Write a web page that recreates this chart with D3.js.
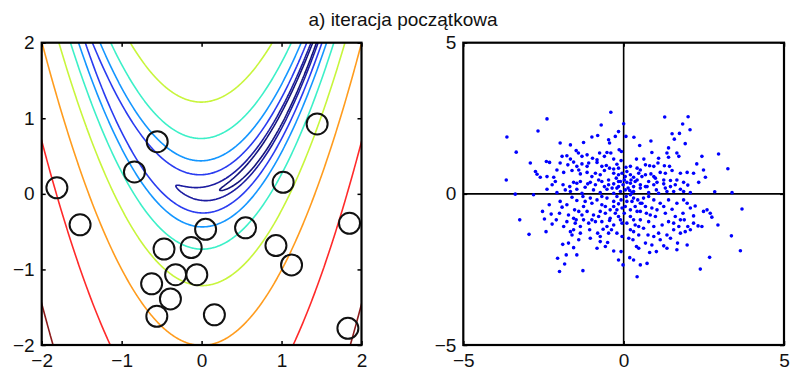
<!DOCTYPE html>
<html>
<head>
<meta charset="utf-8">
<script src="https://cdn.jsdelivr.net/npm/d3@7"></script>
<style>
  body { margin: 0; background: #fff; }
  text { font-family: "Liberation Sans", Arial, sans-serif; }
</style>
</head>
<body>
<svg id="chart" width="794" height="375"></svg>
<script>
// ---- data ---------------------------------------------------------------
const titleText = "a) iteracja początkowa";

// Rosenbrock banana function, contour levels (the outer ones are e^2 ... e^8)
const levelValues = [0.6, 1.75, 7.389, 20.09, 54.6, 148.4, 403.4, 1096.6, 2981];
const levelColors = ["#14147a", "#1c1ca0", "#2a3cf0", "#1496ff", "#3cf0c8",
                     "#c8f53c", "#ff9c1e", "#ff2a2a", "#8c1c1c"];

// population of the first iteration (left panel)
const popX = [-1.81, -0.84, -0.555, 1.445, 1.02, -1.52, 1.85, 0.05, 0.55, -0.47,
              -0.13, 0.93, 1.125, -0.325, -0.06, -0.625, -0.39, -0.56, 0.16, 1.83];
const popY = [0.08, 0.29, 0.69, 0.925, 0.153, -0.41, -0.39, -0.47, -0.45, -0.73,
              -0.71, -0.685, -0.94, -1.07, -1.07, -1.19, -1.39, -1.62, -1.60, -1.78];

// sampled points (right panel)
const sampX = [
 -0.40,-2.39,1.28,2.01,0.00,-0.70,-2.67,1.84,2.07,-0.16,-3.64,-0.99,-0.81,-0.26,0.07,0.32,0.85,1.51,1.74,1.58,
 -0.47,-0.44,-1.98,-1.66,-1.25,0.50,1.40,1.92,-3.35,-1.48,-1.41,-1.14,-0.75,-0.52,-0.40,-0.14,-0.07,0.88,1.35,1.66,
 2.44,2.96,-1.92,-1.77,-1.66,-1.30,-0.97,-0.83,-0.60,-0.31,-0.08,0.40,0.63,1.09,1.40,1.72,-2.91,-2.41,-2.31,-1.98,
 -1.74,-1.56,-1.30,-1.09,-0.83,-0.68,-0.54,-0.21,0.07,0.42,0.68,0.81,1.07,1.27,1.43,2.28,3.25,-3.66,-2.75,-2.70,
 -2.39,-2.18,-2.13,-1.87,-1.61,-1.40,-1.35,-1.14,-0.99,-0.73,-0.60,-0.31,-0.16,-0.05,0.10,0.21,0.31,0.47,0.68,0.85,
 0.99,1.14,1.30,1.51,1.77,1.98,2.18,2.49,2.55,2.34,-2.60,-2.39,-1.89,-1.68,-1.56,-1.35,-1.04,-0.88,-0.68,-0.47,
 -0.31,-0.16,0.02,0.21,0.36,0.52,0.78,1.04,1.25,1.46,1.61,1.87,2.00,-2.08,-1.82,-1.66,-1.46,-1.20,-0.73,-0.52,
 -0.21,0.05,0.31,0.52,0.78,1.02,1.35,1.77,2.08,2.84,3.38,-3.38,-2.81,
 3.69,-3.24,-2.95,-2.53,-2.47,-2.42,-2.26,-2.23,-2.32,-1.98,-2.00,-1.92,-1.77,-1.72,-1.66,-1.61,-1.53,-1.51,-1.48,-1.40,
 -1.35,-1.30,-1.20,-1.14,-1.09,-1.06,-0.99,-0.94,-0.88,-0.83,-0.81,-0.73,-0.68,-0.64,-0.57,-0.50,-0.44,-0.42,-0.38,-0.31,
 -0.31,-0.26,-0.21,-0.16,-0.10,-0.08,-0.05,-0.02,0.02,0.05,0.10,0.16,0.19,0.21,0.26,0.29,0.31,0.36,0.40,0.42,
 0.42,0.47,0.47,0.52,0.57,0.62,0.71,0.73,0.76,0.78,0.81,0.88,0.94,0.99,1.02,1.09,1.14,1.20,1.25,1.30,
 1.35,1.40,1.46,1.51,1.56,1.61,1.68,1.72,1.77,1.85,1.89,1.92,1.98,2.00,2.08,2.18,2.23,2.32,2.39,2.44,
 2.49,2.60,2.68,2.70,2.75,2.94,3.36,3.64,-2.06,-2.00,-1.90,-1.84,-1.79,-1.72,-1.56,-1.27,-1.46,-0.73,-0.47,
 -0.23,-0.10,-0.02,0.10,0.23,0.31,0.19,-0.10,-0.31,-0.47,-0.60,-0.78,-0.94,-1.12,-1.30,-1.46,0.42,0.57,0.73,0.94,
 1.09,1.25,1.46,1.66,1.87,-0.31,-0.44,0.21,0.52,0.94,-0.16,0.05,0.14,0.26,-0.16,-0.36,-0.88,-1.14,-1.46,-2.08,
 -2.23,0.68,0.94,1.30,1.56,
 -0.21,-0.08,0.08,0.21,0.31,0.44,0.62,0.78,0.94,-0.52,-0.68,-0.83,-1.04,-1.27,-1.46,-1.61,-0.05,-0.16,0.21,0.36,
 0.52,0.68,0.83,1.04,1.25,1.40,1.66,1.87,1.98,-0.57,-0.78,-0.99,-1.25,-1.40,-1.56,-1.77,-1.87,-2.10,-0.31,-0.21,
 -0.52,-0.68,0.31,0.47,0.21,0.94,1.14,1.56,1.77,2.08,2.18,-1.25,-1.35,-1.56,-0.73,-1.04,-0.57,0.68,0.88,1.35,
 1.66,0.31,0.52,-0.16,0.10,-0.31,0.52,-0.05,-0.42
];
const sampY = [
 2.70,2.48,2.54,2.55,2.32,2.28,2.08,2.31,2.12,2.06,1.88,1.88,1.93,1.90,1.90,1.87,1.75,1.99,2.00,1.81,
 1.79,1.68,1.68,1.62,1.70,1.60,1.52,1.66,1.38,1.43,1.35,1.29,1.35,1.37,1.35,1.46,1.40,1.37,1.35,1.35,
 1.24,1.32,1.24,1.26,1.15,1.24,1.18,1.13,1.24,1.15,1.10,1.15,1.15,1.18,1.21,1.24,1.02,1.07,1.04,1.02,
 0.96,1.05,0.99,1.02,1.04,0.91,0.94,0.98,0.88,0.85,0.96,0.93,1.02,0.93,0.91,0.99,0.83,0.46,0.74,0.65,
 0.57,0.55,0.41,0.71,0.77,0.79,0.66,0.71,0.57,0.63,0.77,0.82,0.63,0.68,0.74,0.63,0.55,0.68,0.63,0.66,
 0.52,0.71,0.68,0.77,0.68,0.71,0.68,0.79,0.55,0.38,0.55,0.15,0.30,0.24,0.38,0.41,0.38,0.30,0.41,0.46,
 0.33,0.41,0.46,0.35,0.41,0.30,0.41,0.38,0.33,0.44,0.30,0.38,0.29,0.04,0.13,0.08,0.15,0.22,0.04,0.15,
 0.19,0.13,0.08,0.19,0.04,0.13,0.08,0.15,0.04,0.07,0.04,-0.01,-0.03,
 -0.50,-0.86,-1.34,-0.58,-0.83,-1.25,-0.67,-1.00,-0.36,-0.25,-0.64,-0.44,-0.36,-0.70,-1.25,-1.36,-0.53,-0.97,-0.86,-1.52,
 -1.30,-0.70,-0.25,-0.58,-0.97,-1.19,-0.31,-0.70,-0.92,-1.80,-1.30,-0.58,-0.36,-1.17,-0.64,-1.61,-0.88,-0.53,-1.19,-0.42,
 -1.89,-0.64,-0.53,-0.33,-0.86,-1.91,-1.41,-2.35,-0.64,-0.42,-0.97,-1.47,-2.11,-0.75,-0.25,-1.52,-1.25,-1.03,-1.74,-0.58,
 -2.74,-1.36,-1.80,-0.86,-0.31,-1.14,-0.64,-2.30,-1.36,-0.92,-1.94,-0.47,-1.08,-0.75,-1.91,-1.30,-0.31,-1.03,-1.72,-0.64,
 -1.36,-0.92,-1.47,-0.51,-1.19,-0.75,-1.63,-1.08,-1.30,-0.64,-0.86,-1.25,-1.69,-1.08,-0.47,-0.73,-0.40,-1.06,-2.49,-1.08,
 -0.58,-0.53,-2.10,-0.64,-0.77,-1.03,-1.39,-1.88,-2.13,-2.57,-1.67,-2.32,-2.02,-1.63,-1.78,-2.54,-2.02,-1.58,-1.30,
 0.52,0.41,0.30,0.38,0.46,0.24,0.11,0.08,0.02,0.30,0.24,0.46,0.13,0.33,0.02,0.35,0.46,0.57,0.24,0.30,
 0.02,0.46,0.24,0.46,0.08,0.68,0.85,0.91,0.79,0.91,0.85,0.57,0.19,0.04,0.24,0.19,0.68,0.91,0.91,0.79,
 0.30,0.24,0.57,0.19,0.08,
 -0.09,-0.20,-0.09,-0.03,-0.14,-0.20,-0.14,-0.09,-0.20,-0.14,-0.09,-0.20,-0.14,-0.09,-0.22,-0.11,-0.47,-0.75,-0.53,-0.42,
 -0.58,-0.42,-0.70,-0.53,-0.42,-0.20,-0.31,-0.20,-0.31,-0.42,-0.75,-0.86,-0.42,-0.58,-0.81,-0.92,-1.08,-0.86,-1.03,-1.30,
 -1.08,-0.92,-0.86,-1.08,-1.19,-1.41,-1.52,-0.97,-0.86,-1.19,-0.97,-0.86,-1.08,-1.19,-1.41,-1.47,-1.74,-1.63,-1.69,-1.80,
 -1.85,-2.19,-2.35,-2.19,-0.25,-0.25,-0.31,-0.97,-0.81
];

const leftTicks = [-2, -1, 0, 1, 2];
const rightTicks = [-5, 0, 5];

// ---- layout -------------------------------------------------------------
const svg = d3.select("#chart");
const L = { x0: 41.7, x1: 361.5, y0: 42.7, y1: 345 };
const R = { x0: 463.3, x1: 784, y0: 42.7, y1: 345 };

const xL = d3.scaleLinear([-2, 2], [L.x0, L.x1]);
const yL = d3.scaleLinear([-2, 2], [L.y1, L.y0]);
const xR = d3.scaleLinear([-5, 5], [R.x0, R.x1]);
const yR = d3.scaleLinear([-5, 5], [R.y1, R.y0]);

const fontSize = 19;
const tickFmt = d3.format("d");

svg.append("text")
  .attr("x", 403).attr("y", 26)
  .attr("text-anchor", "middle")
  .attr("font-size", fontSize)
  .attr("fill", "#111")
  .text(titleText);

// ---- left panel: contours ----------------------------------------------
const rosen = (x, y) => (1 - x) * (1 - x) + 100 * (y - x * x) * (y - x * x);
const g0 = -2.1, step = 0.01, n = 421;
const grid = new Float64Array(n * n);
for (let j = 0; j < n; j++) {
  for (let i = 0; i < n; i++) {
    const x = g0 + i * step, y = g0 + j * step;
    grid[j * n + i] = -Math.log(rosen(x, y) + 1e-12);
  }
}

svg.append("clipPath").attr("id", "clipL")
  .append("rect")
  .attr("x", L.x0).attr("y", L.y0)
  .attr("width", L.x1 - L.x0).attr("height", L.y1 - L.y0);

const gridToPx = d3.geoTransform({
  point(px, py) {
    this.stream.point(xL(g0 + (px - 0.5) * step), yL(g0 + (py - 0.5) * step));
  }
});
const contourPath = d3.geoPath(gridToPx);
const contourGen = d3.contours().size([n, n]);

const gC = svg.append("g").attr("clip-path", "url(#clipL)");
levelValues.forEach((v, idx) => {
  gC.append("path")
    .datum(contourGen.contour(grid, -Math.log(v)))
    .attr("d", contourPath)
    .attr("fill", "none")
    .attr("stroke", levelColors[idx])
    .attr("stroke-width", 1.6)
    .attr("stroke-linejoin", "round");
});

// population markers
svg.append("g").selectAll("circle")
  .data(popX.map((x, i) => [x, popY[i]]))
  .join("circle")
  .attr("cx", d => xL(d[0]))
  .attr("cy", d => yL(d[1]))
  .attr("r", 10.5)
  .attr("fill", "none")
  .attr("stroke", "#111")
  .attr("stroke-width", 2);

// ---- axes helpers -------------------------------------------------------
function styleAxis(g) {
  g.select(".domain").remove();
  g.selectAll(".tick line").attr("stroke", "#000").attr("stroke-width", 1.5);
  g.selectAll(".tick text").attr("font-size", fontSize).attr("fill", "#111")
    .attr("font-family", "'Liberation Sans', Arial, sans-serif");
}

function drawAxes(P, xs, ys, ticks) {
  svg.append("g").attr("transform", `translate(0,${P.y1})`)
    .call(d3.axisBottom(xs).tickValues(ticks).tickSize(-4).tickPadding(9).tickFormat(tickFmt))
    .call(styleAxis);
  svg.append("g").attr("transform", `translate(0,${P.y0})`)
    .call(d3.axisTop(xs).tickValues(ticks).tickSize(-4).tickFormat(""))
    .call(styleAxis);
  svg.append("g").attr("transform", `translate(${P.x0},0)`)
    .call(d3.axisLeft(ys).tickValues(ticks).tickSize(-4).tickPadding(7).tickFormat(tickFmt))
    .call(styleAxis);
  svg.append("g").attr("transform", `translate(${P.x1},0)`)
    .call(d3.axisRight(ys).tickValues(ticks).tickSize(-4).tickFormat(""))
    .call(styleAxis);
  svg.append("rect")
    .attr("x", P.x0).attr("y", P.y0)
    .attr("width", P.x1 - P.x0).attr("height", P.y1 - P.y0)
    .attr("fill", "none").attr("stroke", "#000").attr("stroke-width", 2.2);
}

drawAxes(L, xL, yL, leftTicks);

// ---- right panel: sample cloud ------------------------------------------
svg.append("line")
  .attr("x1", xR(0)).attr("x2", xR(0)).attr("y1", R.y0).attr("y2", R.y1)
  .attr("stroke", "#000").attr("stroke-width", 1.6);
svg.append("line")
  .attr("x1", R.x0).attr("x2", R.x1).attr("y1", yR(0)).attr("y2", yR(0))
  .attr("stroke", "#000").attr("stroke-width", 1.6);

svg.append("g").selectAll("circle")
  .data(sampX.map((x, i) => [x, sampY[i]]))
  .join("circle")
  .attr("cx", d => xR(d[0]))
  .attr("cy", d => yR(d[1]))
  .attr("r", 1.8)
  .attr("fill", "#0000ff");

drawAxes(R, xR, yR, rightTicks);
</script>
</body>
</html>
